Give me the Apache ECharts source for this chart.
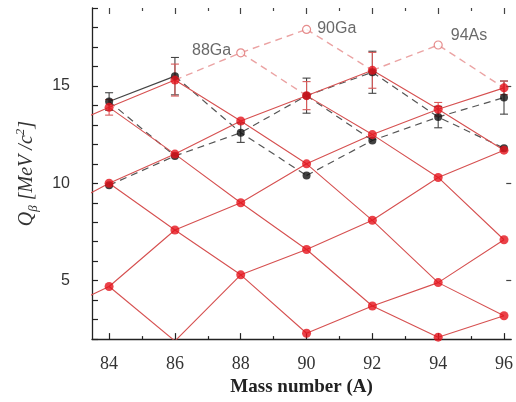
<!DOCTYPE html>
<html>
<head>
<meta charset="utf-8">
<script src="https://cdn.jsdelivr.net/npm/echarts@6/dist/echarts.min.js"></script>
<style>
  html, body { margin: 0; padding: 0; background: #fff; }
  #chart { width: 516px; height: 402px; }
</style>
</head>
<body>
<div id="chart"></div>
<script>
// Q_beta lattice, values (A, Q in MeV)
// red lines going up to the right (A=82 points only give the line entering from the left edge)
const redRise = [
  [[82, 12.45], [84, 13.9], [86, 15.3]],
  [[82, 8.2], [84, 10.0], [86, 11.5], [88, 13.2], [90, 14.5], [92, 15.8]],
  [[82, 3.1], [84, 4.7], [86, 7.6], [88, 9.0], [90, 11.0], [92, 12.5], [94, 13.8], [96, 14.9]],
  [[86, 1.9], [88, 5.3], [90, 6.6], [92, 8.1], [94, 10.3], [96, 11.7]],
  [[90, 2.3], [92, 3.7], [94, 4.9], [96, 7.1]],
  [[94, 2.1], [96, 3.2]]
]
// red lines going down to the right
const redFall = [
  [[84, 13.9], [86, 11.5], [88, 9.0], [90, 6.6], [92, 3.7], [94, 2.1]],
  [[84, 10.0], [86, 7.6], [88, 5.3], [90, 2.3]],
  [[84, 4.7], [86, 1.9]],
  [[86, 15.3], [88, 13.2], [90, 11.0], [92, 8.1], [94, 4.9], [96, 3.2]],
  [[90, 14.5], [92, 12.5], [94, 10.3], [96, 7.1]],
  [[92, 15.8], [94, 13.8], [96, 11.7]]
]
// pink dashed lines to the predicted nuclei
const pinkDashed = [
  [[86, 15.3], [88, 16.7], [90, 17.9]],
  [[88, 16.7], [90, 14.5]],
  [[90, 17.9], [92, 15.8]],
  [[92, 15.8], [94, 17.1], [96, 14.9]]
]
// black (grey dashed) lattice
const blackSolid = [[84, 14.2], [86, 15.5]]
const blackDashed = [
  [[84, 9.9], [86, 11.4], [88, 12.6], [90, 14.5], [92, 15.7]],
  [[90, 10.4], [92, 12.2], [94, 13.4], [96, 14.4]],
  [[84, 14.2], [86, 11.4]],
  [[86, 15.5], [88, 12.6], [90, 10.4]],
  [[90, 14.5], [92, 12.2]],
  [[92, 15.7], [94, 13.4], [96, 11.8]]
]
// error bars [A, Q, half width]
const blackErr = [[84, 14.2, 0.45], [86, 15.5, 0.96], [88, 12.6, 0.5], [90, 14.5, 0.9], [92, 15.7, 1.08], [94, 13.4, 0.55], [96, 14.4, 0.85]]
const redErr = [[84, 13.9, 0.4], [86, 15.3, 0.82], [90, 14.5, 0.72], [92, 15.8, 0.92], [94, 13.8, 0.35], [96, 14.9, 0.35]]
// open symbols
const openPts = [[88, 16.7, '88Ga'], [90, 17.9, '90Ga'], [94, 17.1, '94As']]

const xMajor = [84, 86, 88, 90, 92, 94, 96]
const xMinor = [85, 87, 89, 91, 93, 95]
const yLabels = [5, 10, 15]

const xMin = 83.48
const xMax = 96.22

function uniquePoints(chains) {
  const seen = {}
  const out = []
  chains.forEach(function(c) {
    c.forEach(function(p) {
      const k = p[0] + '_' + p[1]
      if (!seen[k]) {
        seen[k] = true
        out.push(p)
      }
    })
  })
  return out
}

function lineSeries(chain, color, type, width) {
  return {
    type: 'line',
    data: chain,
    showSymbol: false,
    symbol: 'none',
    silent: true,
    clip: true,
    lineStyle: { color: color, width: width, type: type },
    z: 2
  }
}

function errSeries(data, color, z) {
  return {
    type: 'custom',
    data: data,
    encode: { x: 0, y: 1 },
    silent: true,
    z: z,
    renderItem: function(params, api) {
      const x = api.value(0)
      const y = api.value(1)
      const e = api.value(2)
      const top = api.coord([x, y + e])
      const bot = api.coord([x, y - e])
      const hw = 4
      const style = { stroke: color, lineWidth: 1.1 }
      return {
        type: 'group',
        children: [
          { type: 'line', shape: { x1: top[0], y1: top[1], x2: bot[0], y2: bot[1] }, style: style },
          { type: 'line', shape: { x1: top[0] - hw, y1: top[1], x2: top[0] + hw, y2: top[1] }, style: style },
          { type: 'line', shape: { x1: bot[0] - hw, y1: bot[1], x2: bot[0] + hw, y2: bot[1] }, style: style }
        ]
      }
    }
  }
}

const series = []
pinkDashed.forEach(function(c) { series.push(lineSeries(c, '#eba3a3', [7, 5], 1.4)) })
blackDashed.forEach(function(c) { series.push(lineSeries(c, '#555', [7, 5], 1.2)) })
series.push(lineSeries(blackSolid, '#444', 'solid', 1.2))
redRise.concat(redFall).forEach(function(c) { series.push(lineSeries(c, '#d65050', 'solid', 1.1)) })

series.push(errSeries(blackErr, '#444', 3))
series.push(errSeries(redErr, '#d85a5a', 3))

series.push({
  type: 'scatter',
  data: uniquePoints(blackDashed.concat([blackSolid])),
  symbolSize: 8,
  itemStyle: { color: '#111' },
  silent: true,
  z: 4
})
series.push({
  type: 'scatter',
  data: uniquePoints(redRise.concat(redFall)),
  symbolSize: 9,
  itemStyle: { color: '#e5131b' },
  silent: true,
  z: 5
})
series.push({
  type: 'scatter',
  data: openPts.map(function(p, i) {
    const pos = [
      { position: 'left', distance: 5, offset: [0, -2] },
      { position: 'right', distance: 6, offset: [0, -1] },
      { position: 'right', distance: 8, offset: [0, -9] }
    ][i]
    return { value: [p[0], p[1]], name: p[2], label: pos }
  }),
  symbol: 'circle',
  symbolSize: 8,
  itemStyle: { color: '#fff', borderColor: '#e07070', borderWidth: 1.2 },
  label: {
    show: true,
    formatter: '{b}',
    fontFamily: 'Liberation Sans',
    fontSize: 16,
    color: '#444'
  },
  silent: true,
  z: 6
})

const axisColor = '#222'
const chart = echarts.init(document.getElementById('chart'))
chart.setOption({
  animation: false,
  backgroundColor: '#fff',
  grid: { left: 92, right: 3, top: 8, bottom: 61 },
  xAxis: [
    {
      type: 'value', min: xMin, max: xMax, position: 'bottom',
      axisLine: { show: true, lineStyle: { color: axisColor, width: 1.3 } },
      axisTick: { inside: true, length: 6, customValues: xMajor, lineStyle: { color: axisColor, width: 1.2 } },
      axisLabel: { customValues: xMajor, margin: 16, fontFamily: 'Liberation Serif', fontSize: 18, color: '#333' },
      splitLine: { show: false },
      name: 'Mass number (A)',
      nameLocation: 'middle',
      nameGap: 29,
      nameTextStyle: { fontFamily: 'Liberation Serif', fontWeight: 'bold', fontSize: 19, color: '#222' }
    },
    {
      type: 'value', min: xMin, max: xMax, position: 'bottom',
      axisLine: { show: false },
      axisTick: { inside: true, length: 3, customValues: xMinor, lineStyle: { color: axisColor, width: 1.2 } },
      axisLabel: { show: false },
      splitLine: { show: false }
    },
    {
      type: 'value', min: xMin, max: xMax, position: 'top',
      axisLine: { show: false },
      axisTick: { inside: true, length: 6, customValues: xMajor, lineStyle: { color: '#444', width: 1.2 } },
      axisLabel: { show: false },
      splitLine: { show: false }
    },
    {
      type: 'value', min: xMin, max: xMax, position: 'top',
      axisLine: { show: false },
      axisTick: { inside: true, length: 3, customValues: xMinor, lineStyle: { color: '#444', width: 1.2 } },
      axisLabel: { show: false },
      splitLine: { show: false }
    }
  ],
  yAxis: [
    {
      type: 'value', min: 2, max: 19, interval: 1, position: 'left',
      axisLine: { show: true, lineStyle: { color: axisColor, width: 1.3 } },
      axisTick: { inside: true, length: 6, lineStyle: { color: axisColor, width: 1.2 } },
      axisLabel: {
        margin: 22, fontFamily: 'Liberation Sans', fontSize: 16, color: '#333',
        formatter: function(v) { return yLabels.indexOf(v) >= 0 ? String(v) : '' }
      },
      splitLine: { show: false },
      name: '{q|Q}{sub|β}{t| [MeV /c}{sup|2}{t|]}',
      nameLocation: 'middle',
      nameRotate: 90,
      nameGap: 52,
      nameTextStyle: {
        color: '#333',
        rich: {
          q: { fontFamily: 'Liberation Serif', fontStyle: 'italic', fontSize: 20, color: '#333', lineHeight: 26 },
          t: { fontFamily: 'Liberation Serif', fontStyle: 'italic', fontSize: 20, color: '#333', lineHeight: 26 },
          sub: { fontFamily: 'Liberation Serif', fontStyle: 'italic', fontSize: 13, color: '#333', lineHeight: 26, verticalAlign: 'bottom' },
          sup: { fontFamily: 'Liberation Serif', fontStyle: 'italic', fontSize: 13, color: '#333', lineHeight: 26, verticalAlign: 'top' }
        }
      }
    },
    {
      type: 'value', min: 2, max: 19, position: 'right',
      axisLine: { show: false },
      axisTick: { inside: true, length: 5, customValues: yLabels, lineStyle: { color: '#444', width: 1.2 } },
      axisLabel: { show: false },
      splitLine: { show: false }
    }
  ],
  series: series
})
</script>
</body>
</html>
